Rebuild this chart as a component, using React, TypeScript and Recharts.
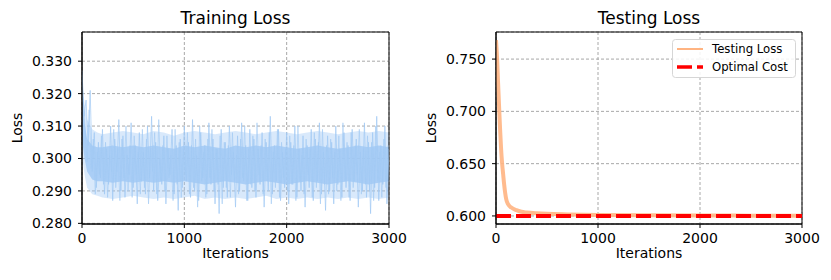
import React from 'react';
import {
  ComposedChart,
  Line,
  Area,
  XAxis,
  YAxis,
  CartesianGrid,
  ReferenceArea,
} from 'recharts';

// x ticks shared by both panels
const ITER_TICKS = [0, 1000, 2000, 3000];
const TRAIN_TICKS = [0.28, 0.29, 0.3, 0.31, 0.32, 0.33];
const TEST_TICKS = [0.6, 0.65, 0.7, 0.75];

const trainSamples = [
  0.327, 0.313, 0.318, 0.304, 0.321, 0.296, 0.308, 0.291, 0.305, 0.294,
  0.309, 0.289, 0.303, 0.292, 0.31, 0.287, 0.306, 0.296, 0.312, 0.29,
  0.307, 0.288, 0.301, 0.295, 0.311, 0.291, 0.304, 0.286, 0.308, 0.293,
  0.302, 0.289, 0.31, 0.294, 0.313, 0.29, 0.305, 0.287, 0.3, 0.292,
  0.307, 0.286, 0.303, 0.295, 0.309, 0.289, 0.304, 0.284, 0.306, 0.291,
  0.31, 0.293, 0.305, 0.288, 0.312, 0.29, 0.301, 0.287, 0.308, 0.294,
  0.304, 0.289, 0.311, 0.292, 0.306, 0.286, 0.303, 0.283, 0.309, 0.291,
  0.305, 0.288, 0.31, 0.295, 0.302, 0.285, 0.307, 0.29, 0.311, 0.293,
  0.304, 0.287, 0.309, 0.291, 0.306, 0.288, 0.303, 0.292, 0.308, 0.285,
  0.305, 0.29, 0.313, 0.289, 0.304, 0.293, 0.309, 0.287, 0.302, 0.291,
  0.308, 0.286, 0.305, 0.292, 0.31, 0.288, 0.303, 0.29, 0.307, 0.285,
  0.304, 0.291, 0.309, 0.287, 0.306, 0.293, 0.311, 0.289, 0.302, 0.284,
  0.307, 0.29, 0.305, 0.286, 0.31, 0.292, 0.303, 0.288, 0.308, 0.291,
  0.304, 0.287, 0.309, 0.293, 0.306, 0.285, 0.302, 0.29, 0.311, 0.288,
  0.305, 0.283, 0.308, 0.291, 0.313, 0.287, 0.304, 0.292, 0.31, 0.286,
  0.303,
];

// second pass of samples, offset by 10 iterations
const trainSamplesB = [
  0.319, 0.309, 0.299, 0.315, 0.297, 0.306, 0.289, 0.302, 0.295, 0.307,
  0.292, 0.305, 0.288, 0.301, 0.296, 0.309, 0.291, 0.303, 0.287, 0.306,
  0.294, 0.31, 0.29, 0.304, 0.288, 0.307, 0.295, 0.302, 0.289, 0.309,
  0.291, 0.306, 0.286, 0.303, 0.296, 0.308, 0.289, 0.312, 0.293, 0.304,
  0.29, 0.307, 0.294, 0.301, 0.287, 0.309, 0.292, 0.305, 0.288, 0.303,
  0.295, 0.308, 0.289, 0.304, 0.291, 0.306, 0.285, 0.31, 0.293, 0.302,
  0.288, 0.306, 0.294, 0.309, 0.29, 0.303, 0.292, 0.307, 0.286, 0.305,
  0.291, 0.304, 0.288, 0.308, 0.293, 0.301, 0.289, 0.306, 0.294, 0.31,
  0.287, 0.303, 0.292, 0.307, 0.29, 0.311, 0.295, 0.304, 0.289, 0.306,
  0.293, 0.308, 0.286, 0.302, 0.291, 0.309, 0.288, 0.305, 0.294, 0.303,
  0.29, 0.307, 0.292, 0.304, 0.287, 0.31, 0.293, 0.301, 0.289, 0.306,
  0.295, 0.303, 0.288, 0.308, 0.291, 0.305, 0.286, 0.309, 0.292, 0.304,
  0.289, 0.306, 0.294, 0.302, 0.29, 0.307, 0.287, 0.311, 0.293, 0.305,
  0.288, 0.308, 0.291, 0.304, 0.295, 0.309, 0.289, 0.303, 0.292, 0.307,
  0.29, 0.305, 0.287, 0.31, 0.293, 0.302, 0.288, 0.306, 0.291, 0.304,
];

// envelope of the noisy band
const bandIters = [
  0, 25, 50, 100, 150, 200, 300, 400, 500, 600, 700, 800, 900, 1000, 1100,
  1200, 1300, 1400, 1500, 1600, 1700, 1800, 1900, 2000, 2100, 2200, 2300,
  2400, 2500, 2600, 2700, 2800, 2900, 3000,
];
const outerHigh = [
  0.324, 0.317, 0.312, 0.309, 0.308, 0.3075, 0.308, 0.3085, 0.308, 0.3075,
  0.3085, 0.308, 0.307, 0.308, 0.3085, 0.308, 0.3075, 0.308, 0.3085, 0.308,
  0.3075, 0.308, 0.3085, 0.308, 0.3075, 0.308, 0.3085, 0.308, 0.3075, 0.308,
  0.3085, 0.308, 0.3085, 0.308,
];
const outerLow = [
  0.301, 0.295, 0.291, 0.289, 0.2885, 0.288, 0.2875, 0.288, 0.2885, 0.288,
  0.2875, 0.288, 0.2875, 0.288, 0.2885, 0.2875, 0.288, 0.2875, 0.288, 0.2875,
  0.288, 0.2885, 0.2875, 0.288, 0.2875, 0.288, 0.2875, 0.288, 0.2875, 0.288,
  0.2875, 0.288, 0.2875, 0.288,
];
const coreHigh = [
  0.318, 0.311, 0.306, 0.304, 0.3035, 0.3035, 0.304, 0.3035, 0.304, 0.3035,
  0.304, 0.3035, 0.303, 0.304, 0.3035, 0.304, 0.3035, 0.303, 0.304, 0.3035,
  0.304, 0.3035, 0.304, 0.3035, 0.303, 0.3035, 0.304, 0.3035, 0.303, 0.3035,
  0.304, 0.3035, 0.304, 0.3035,
];
const coreLow = [
  0.306, 0.3, 0.296, 0.2935, 0.293, 0.293, 0.2925, 0.293, 0.2925, 0.293,
  0.2925, 0.293, 0.2925, 0.293, 0.2925, 0.292, 0.2925, 0.293, 0.2925, 0.292,
  0.2925, 0.293, 0.2925, 0.292, 0.2925, 0.293, 0.2925, 0.292, 0.2925, 0.293,
  0.2925, 0.292, 0.2925, 0.293,
];

// testing loss
const testIters = [
  0, 10, 20, 30, 40, 50, 60, 70, 80, 90, 100, 120, 150, 200, 250, 300, 400,
  500, 700, 1000, 1500, 2000, 2500, 3000,
];
const testLoss = [
  0.768, 0.752, 0.728, 0.705, 0.683, 0.664, 0.65, 0.64, 0.63, 0.622, 0.616,
  0.611, 0.608, 0.6055, 0.604, 0.6033, 0.6025, 0.602, 0.6015, 0.601, 0.6006,
  0.6004, 0.6003, 0.6002,
];
const optimalCost = 0.6;

const trainLine = trainSamples.map((v, i) => ({ iter: i * 20, loss: v }));
const trainLineB = trainSamplesB.map((v, i) => ({ iter: 10 + i * 20, loss: v }));
const trainBand = bandIters.map((it, i) => ({
  iter: it,
  outer: [outerLow[i], outerHigh[i]],
  core: [coreLow[i], coreHigh[i]],
}));
const testData = testIters.map((it, i) => ({ iter: it, loss: testLoss[i] }));
const optimalData = [
  { iter: 0, cost: optimalCost },
  { iter: 3000, cost: optimalCost },
];

const FONT = '"DejaVu Sans", sans-serif';
const BLUE = '#a1c9f4';
const ORANGE = '#ffb482';
const TRAIN_DOMAIN: [number, number] = [0.2798, 0.339];
const TEST_DOMAIN: [number, number] = [0.5923, 0.7759];

const tickStyle = { fill: '#000', fontSize: 14, fontFamily: FONT };

const TrainingPanel = () => (
  <ComposedChart
    width={420}
    height={280}
    margin={{ top: 32, right: 31, bottom: 26, left: 22 }}
    style={{ overflow: 'visible' }}
  >
    <CartesianGrid stroke="#a8a8a8" strokeDasharray="3 2" />
    <XAxis
      dataKey="iter"
      type="number"
      domain={[0, 3000]}
      ticks={ITER_TICKS}
      allowDataOverflow
      height={30}
      tick={tickStyle}
      tickSize={4}
      tickMargin={5}
      stroke="#000"
    />
    <YAxis
      type="number"
      domain={TRAIN_DOMAIN}
      ticks={TRAIN_TICKS}
      allowDataOverflow
      width={60}
      tick={tickStyle}
      tickSize={4}
      tickMargin={6}
      tickFormatter={(v: number) => v.toFixed(3)}
      stroke="#000"
    />
    <Area
      data={trainBand}
      dataKey="outer"
      stroke="none"
      fill={BLUE}
      fillOpacity={0.4}
      isAnimationActive={false}
    />
    <Area
      data={trainBand}
      dataKey="core"
      stroke="none"
      fill={BLUE}
      fillOpacity={0.85}
      isAnimationActive={false}
    />
    <Line
      data={trainLineB}
      dataKey="loss"
      stroke={BLUE}
      strokeWidth={1}
      strokeOpacity={0.6}
      dot={false}
      isAnimationActive={false}
    />
    <Line
      data={trainLine}
      dataKey="loss"
      stroke={BLUE}
      strokeWidth={1}
      strokeOpacity={0.7}
      dot={false}
      isAnimationActive={false}
    />
    <ReferenceArea
      x1={0}
      x2={3000}
      y1={TRAIN_DOMAIN[0]}
      y2={TRAIN_DOMAIN[1]}
      fill="none"
      stroke="#000"
      strokeWidth={1}
    />
  </ComposedChart>
);

const TestingPanel = () => (
  <ComposedChart
    width={415}
    height={280}
    margin={{ top: 32, right: 29, bottom: 26, left: 20 }}
  >
    <CartesianGrid stroke="#a8a8a8" strokeDasharray="3 2" />
    <XAxis
      dataKey="iter"
      type="number"
      domain={[0, 3000]}
      ticks={ITER_TICKS}
      allowDataOverflow
      height={30}
      tick={tickStyle}
      tickSize={4}
      tickMargin={5}
      stroke="#000"
    />
    <YAxis
      type="number"
      domain={TEST_DOMAIN}
      ticks={TEST_TICKS}
      allowDataOverflow
      width={60}
      tick={tickStyle}
      tickSize={4}
      tickMargin={6}
      tickFormatter={(v: number) => v.toFixed(3)}
      stroke="#000"
    />
    <Line
      data={testData}
      dataKey="loss"
      type="monotone"
      stroke={ORANGE}
      strokeWidth={4}
      strokeOpacity={0.9}
      dot={false}
      isAnimationActive={false}
    />
    <Line
      data={optimalData}
      dataKey="cost"
      stroke="#ff0000"
      strokeWidth={4}
      strokeDasharray="15 5"
      dot={false}
      isAnimationActive={false}
    />
    <ReferenceArea
      x1={0}
      x2={3000}
      y1={TEST_DOMAIN[0]}
      y2={TEST_DOMAIN[1]}
      fill="none"
      stroke="#000"
      strokeWidth={1}
    />
  </ComposedChart>
);

export default function App() {
  return (
    <div
      style={{
        position: 'absolute',
        left: 0,
        top: 0,
        width: 831,
        height: 280,
        background: '#fff',
        fontFamily: FONT,
        overflow: 'hidden',
      }}
    >
      <div style={{ position: 'absolute', left: 0, top: 0 }}>
        <TrainingPanel />
      </div>
      <div style={{ position: 'absolute', left: 416, top: 0 }}>
        <TestingPanel />
      </div>
      <svg
        width={831}
        height={280}
        style={{ position: 'absolute', left: 0, top: 0, pointerEvents: 'none' }}
        fontFamily={FONT}
      >
        <text x={235.5} y={24} textAnchor="middle" fontSize={17}>Training Loss</text>
        <text x={649} y={24} textAnchor="middle" fontSize={17}>Testing Loss</text>
        <text x={235.5} y={258} textAnchor="middle" fontSize={14}>Iterations</text>
        <text x={649} y={258} textAnchor="middle" fontSize={14}>Iterations</text>
        <text transform="translate(22,128) rotate(-90)" textAnchor="middle" fontSize={14}>Loss</text>
        <text transform="translate(436,128) rotate(-90)" textAnchor="middle" fontSize={14}>Loss</text>
        {/* legend */}
        <rect x={672.5} y={39.5} width={123} height={38} rx={3} fill="#fff" fillOpacity={0.85} stroke="#d6d6d6" />
        <line x1={677} x2={703} y1={49} y2={49} stroke={ORANGE} strokeWidth={2} />
        <line x1={677} x2={703} y1={67} y2={67} stroke="#ff0000" strokeWidth={3.5} strokeDasharray="15 5" />
        <text x={712} y={53} fontSize={11.7}>Testing Loss</text>
        <text x={712} y={71} fontSize={11.7}>Optimal Cost</text>
      </svg>
    </div>
  );
}
